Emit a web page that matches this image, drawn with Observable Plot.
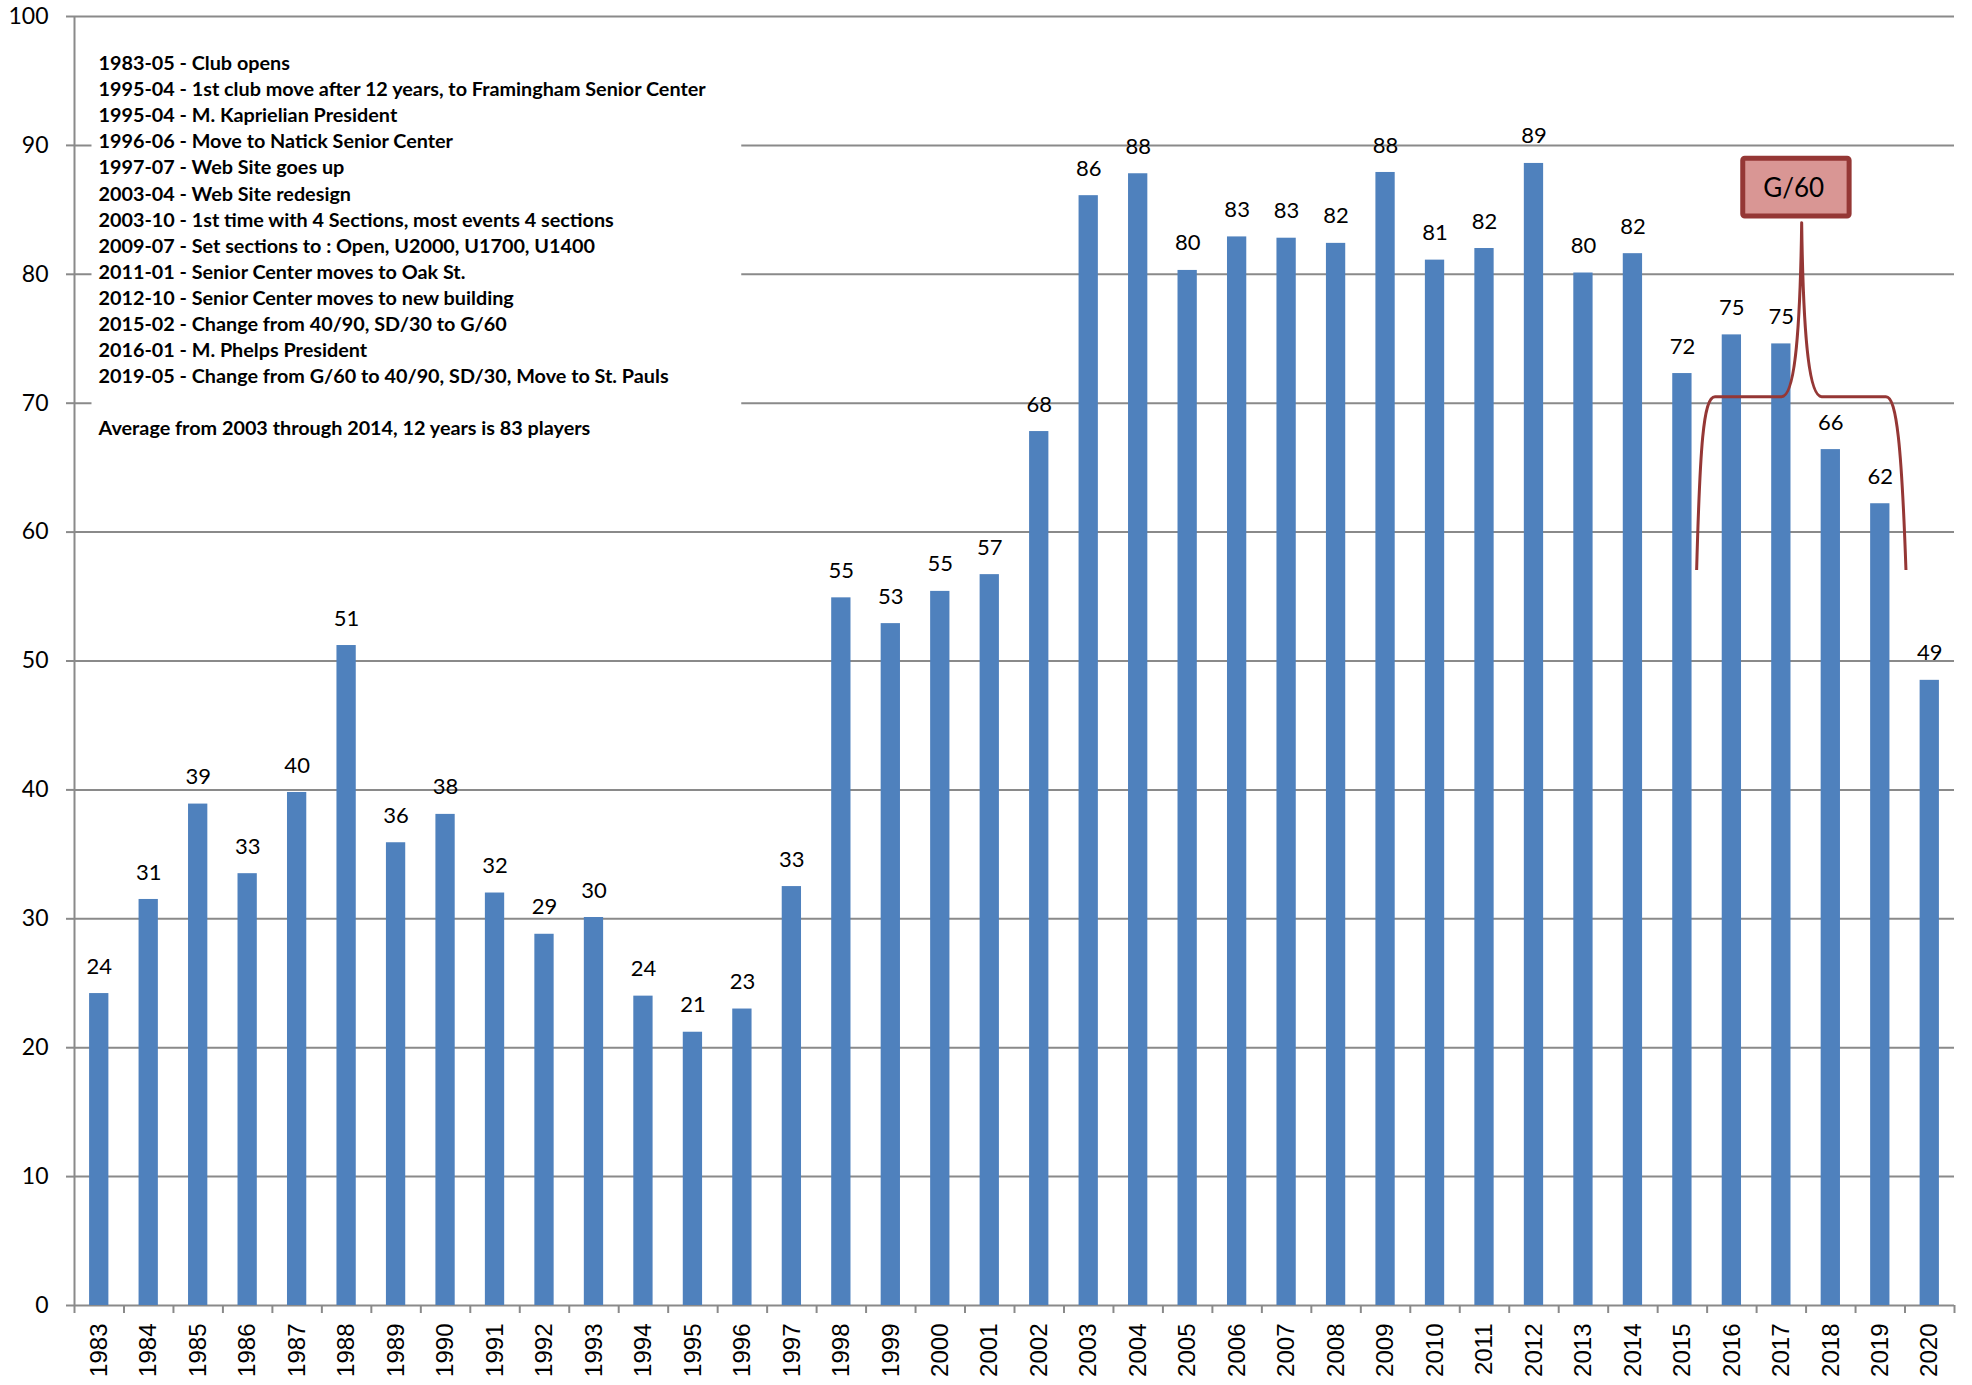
<!DOCTYPE html>
<html>
<head>
<meta charset="utf-8">
<script src="https://cdn.jsdelivr.net/npm/d3@7"></script>
<script src="https://cdn.jsdelivr.net/npm/@observablehq/plot@0.6"></script>
<style>
  html, body { margin: 0; padding: 0; background: #fff; }
  #chart svg { display: block; }
</style>
</head>
<body>
<div id="chart"></div>
<script>
// ---------- data ----------
const years = [1983,1984,1985,1986,1987,1988,1989,1990,1991,1992,1993,1994,1995,1996,1997,1998,1999,2000,2001,2002,2003,2004,2005,2006,2007,2008,2009,2010,2011,2012,2013,2014,2015,2016,2017,2018,2019,2020];
const players = [24.2,31.5,38.9,33.5,39.8,51.2,35.9,38.1,32.0,28.8,30.1,24.0,21.2,23.0,32.5,54.9,52.9,55.4,56.7,67.8,86.1,87.8,80.3,82.9,82.8,82.4,87.9,81.1,82.0,88.6,80.1,81.6,72.3,75.3,74.6,66.4,62.2,48.5];
const valueLabels = [24,31,39,33,40,51,36,38,32,29,30,24,21,23,33,55,53,55,57,68,86,88,80,83,83,82,88,81,82,89,80,82,72,75,75,66,62,49];
const yTicks = [0,10,20,30,40,50,60,70,80,90,100];
const notes = [
  "1983-05 - Club opens",
  "1995-04 - 1st club move after 12 years, to Framingham Senior Center",
  "1995-04 - M. Kaprielian President",
  "1996-06 - Move to Natick Senior Center",
  "1997-07 - Web Site goes up",
  "2003-04 - Web Site redesign",
  "2003-10 - 1st time with 4 Sections, most events 4 sections",
  "2009-07 - Set sections to : Open, U2000, U1700, U1400",
  "2011-01 - Senior Center moves to Oak St.",
  "2012-10 - Senior Center moves to new building",
  "2015-02 - Change from 40/90, SD/30 to G/60",
  "2016-01 - M. Phelps President",
  "2019-05 - Change from G/60 to 40/90, SD/30, Move to St. Pauls",
  "",
  "Average from 2003 through 2014, 12 years is 83 players"
];
const calloutLabel = "G/60";

// ---------- annotation geometry (data space) ----------
const calloutBox = {x1: 2016.23, x2: 2018.38, y1: 84.48, y2: 88.96, tx: 2017.25, ty: 86.63};
const bracketPath = [
  ["M", [2015.298, 57.02]],
  ["C", [2015.366, 66.59], [2015.433, 70.47], [2015.669, 70.47]],
  ["L", [2017.017, 70.47]],
  ["C", [2017.253, 70.47], [2017.387, 74.35], [2017.421, 83.97]],
  ["C", [2017.455, 74.35], [2017.589, 70.47], [2017.825, 70.47]],
  ["L", [2019.125, 70.47]],
  ["C", [2019.341, 70.47], [2019.442, 66.59], [2019.529, 57.02]]
];

// ---------- build ----------
const data = years.map((y, i) => ({year: y, value: players[i], label: valueLabels[i]}));
const boundaries = d3.range(years.length + 1).map(i => years[0] - 0.5 + i);
const gray = "#8a8a8a";
const blue = "#4f81bd";
const red = "#953735";

const bracketMark = (index, scales) => {
  const g = d3.create("svg:g");
  const pt = ([x, y]) => `${scales.x(x)},${scales.y(y)}`;
  const d = bracketPath.map(([cmd, ...pts]) => cmd + pts.map(pt).join(" ")).join(" ");
  g.append("path").attr("d", d).attr("fill", "none").attr("stroke", red)
    .attr("stroke-width", 3).attr("stroke-linejoin", "round");
  return g.node();
};

const plot = Plot.plot({
  width: 1972,
  height: 1385,
  marginTop: 16,
  marginBottom: 80,
  marginLeft: 74,
  marginRight: 18,
  style: {background: "#fff", color: "#000"},
  x: {domain: [years[0] - 0.5, years[years.length - 1] + 0.5], axis: null},
  y: {domain: [0, 100], axis: null},
  marks: [
    Plot.ruleY(yTicks, {stroke: gray, strokeWidth: 2}),
    Plot.ruleX([years[0] - 0.5], {stroke: gray, strokeWidth: 2}),
    Plot.axisY({ticks: yTicks, tickSize: 8, tickPadding: 18, stroke: gray, strokeWidth: 2,
      fontSize: 23, fontFamily: "Lato", fill: "#000"}),
    Plot.axisX({ticks: boundaries, tickSize: 8, tickFormat: () => "", stroke: gray, strokeWidth: 2}),
    Plot.axisX({ticks: years, tickSize: 0, tickPadding: 18, tickRotate: -90, tickFormat: d => String(d),
      fontSize: 24, fontFamily: "Liberation Sans", fill: "#000"}),
    Plot.text([notes.join("\n")], {
      text: d => d, frameAnchor: "top-left", textAnchor: "start", lineAnchor: "top",
      dx: 24, dy: 35, fontSize: 19.8, fontWeight: "bold", fontFamily: "Lato",
      lineHeight: 26.1 / 19.8, fill: "#000", ariaLabel: () => "notes"
    }),
    Plot.rectY(data, {x1: d => d.year - 0.195, x2: d => d.year + 0.195, y: "value", fill: blue}),
    Plot.text(data, {x: "year", y: "value", text: "label", dy: -27, fontSize: 22,
      fontFamily: "Lato", fill: "#000"}),
    bracketMark,
    Plot.rect([calloutBox], {x1: "x1", x2: "x2", y1: "y1", y2: "y2", fill: "#d99694",
      stroke: red, strokeWidth: 5, rx: 2}),
    Plot.text([calloutBox], {x: "tx", y: "ty", text: () => calloutLabel, fontSize: 26,
      fontFamily: "Lato", fill: "#000"})
  ]
});

document.getElementById("chart").appendChild(plot);

// white text-box behind the notes (hides the gridlines like the original text box)
const notesText = plot.querySelector('[aria-label="notes"]');
if (notesText) {
  const g = notesText.parentNode;
  const bb = g.getBBox();
  const rect = document.createElementNS("http://www.w3.org/2000/svg", "rect");
  rect.setAttribute("x", bb.x - 6);
  rect.setAttribute("y", bb.y - 14);
  rect.setAttribute("width", bb.width + 41);
  rect.setAttribute("height", bb.height + 30);
  rect.setAttribute("fill", "#fff");
  rect.setAttribute("stroke", "none");
  g.insertBefore(rect, g.firstChild);
}
</script>
</body>
</html>
